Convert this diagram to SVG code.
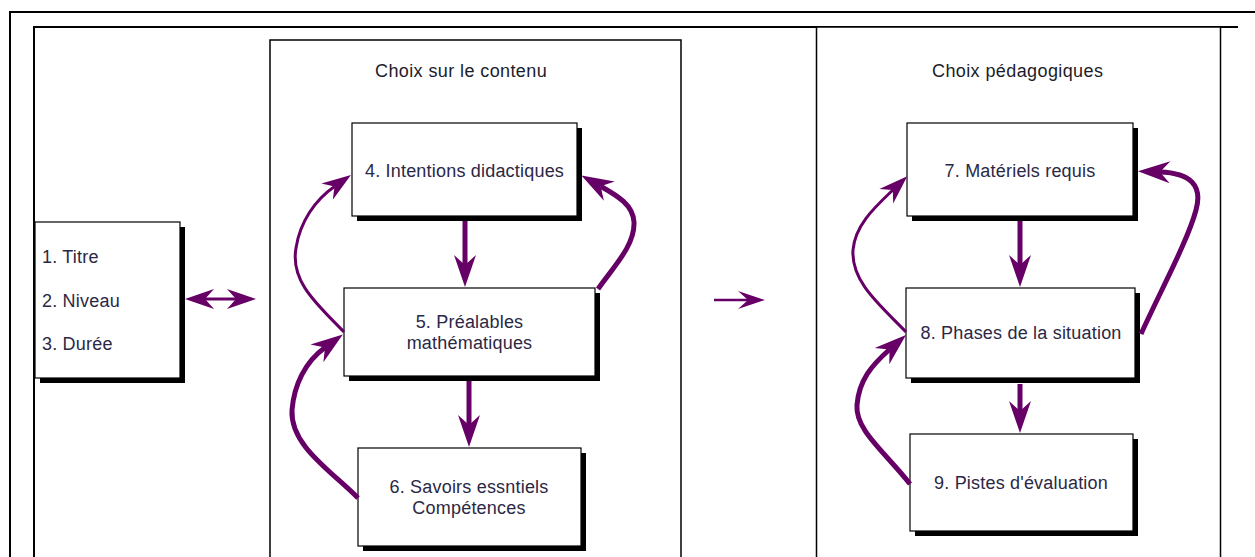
<svg xmlns="http://www.w3.org/2000/svg" width="1255" height="557" viewBox="0 0 1255 557">
<style>
.frame{fill:none;stroke:#000;stroke-width:2}
.panel{fill:#fff;stroke:#000;stroke-width:1.5}
.shadow{fill:#000}
.box{fill:#fff;stroke:#000;stroke-width:1.2}
.title{font-family:"Liberation Sans",Arial,sans-serif;font-size:18px;fill:#1c1c2a;letter-spacing:0.4px}
.lbl{font-family:"Liberation Sans",Arial,sans-serif;font-size:18px;fill:#2b2845;letter-spacing:0.2px}
.c{text-anchor:middle}
.thick{fill:none;stroke:#660066;stroke-width:5;marker-end:url(#headL)}
.thin{fill:none;stroke:#660066;stroke-width:3;marker-end:url(#headM)}
</style>
<defs>
<marker id="headL" markerUnits="userSpaceOnUse" markerWidth="34" markerHeight="24" refX="10" refY="11" orient="auto" overflow="visible">
<path d="M32,11 L0,0 L10,11 L0,22 Z" fill="#660066"/>
</marker>
<marker id="headM" markerUnits="userSpaceOnUse" markerWidth="32" markerHeight="22" refX="9" refY="10" orient="auto-start-reverse" overflow="visible">
<path d="M29,10 L0,0 L9,10 L0,20 Z" fill="#660066"/>
</marker>
<marker id="headS" markerUnits="userSpaceOnUse" markerWidth="28" markerHeight="20" refX="10" refY="9" orient="auto" overflow="visible">
<path d="M27,9 L0,0 L10,9 L0,18 Z" fill="#660066"/>
</marker>
</defs>
<rect width="1255" height="557" fill="#fff"/>
<g id="frame">
<path class="frame" d="M10,557 V12 H1255"/>
<path class="frame" d="M34,557 V27 H1238"/>
</g>
<g id="panel-contenu">
<rect class="panel" x="270" y="40" width="411" height="600"/>
<text class="title" x="375" y="77">Choix sur le contenu</text>
</g>
<g id="panel-pedagogiques">
<rect class="panel" x="816.5" y="27" width="404" height="600"/>
<text class="title" x="932" y="77">Choix pédagogiques</text>
</g>
<g id="node-1-3">
<rect class="shadow" x="40" y="227" width="145" height="156"/>
<rect class="box" x="35" y="222" width="145" height="156"/>
<text class="lbl" x="42" y="263">1. Titre</text>
<text class="lbl" x="42" y="307">2. Niveau</text>
<text class="lbl" x="42" y="350">3. Durée</text>
</g>
<g id="node-4">
<rect class="shadow" x="357" y="128" width="225" height="93"/>
<rect class="box" x="352" y="123" width="225" height="93"/>
<text class="lbl c" x="464.5" y="177">4. Intentions didactiques</text>
</g>
<g id="node-5">
<rect class="shadow" x="349" y="293" width="251" height="88"/>
<rect class="box" x="344" y="288" width="251" height="88"/>
<text class="lbl c" x="469.5" y="328">5. Préalables</text>
<text class="lbl c" x="469.5" y="349">mathématiques</text>
</g>
<g id="node-6">
<rect class="shadow" x="363" y="453" width="223" height="98"/>
<rect class="box" x="358" y="448" width="223" height="98"/>
<text class="lbl c" x="469" y="493">6. Savoirs essntiels</text>
<text class="lbl c" x="469" y="514">Compétences</text>
</g>
<g id="node-7">
<rect class="shadow" x="912" y="128" width="226" height="93"/>
<rect class="box" x="907" y="123" width="226" height="93"/>
<text class="lbl c" x="1020" y="177">7. Matériels requis</text>
</g>
<g id="node-8">
<rect class="shadow" x="911" y="293" width="229" height="90"/>
<rect class="box" x="906" y="288" width="229" height="90"/>
<text class="lbl c" x="1021" y="339">8. Phases de la situation</text>
</g>
<g id="node-9">
<rect class="shadow" x="915" y="439" width="223" height="97"/>
<rect class="box" x="910" y="434" width="223" height="97"/>
<text class="lbl c" x="1021" y="489">9. Pistes d'évaluation</text>
</g>
<g id="connectors">
<path d="M205,299 H236" fill="none" stroke="#660066" stroke-width="3" marker-start="url(#headM)" marker-end="url(#headM)"/>
<path d="M714,300 H748" fill="none" stroke="#660066" stroke-width="2.5" marker-end="url(#headS)"/>
<path class="thick" d="M465,221 V265"/>
<path class="thick" d="M469,381 V425"/>
<path class="thin" d="M344,332 C318,305 290,282 296,248 C300,222 315,200 334.5,186.5"/>
<path class="thick" d="M358,498 C330,470 290,445 292,410 C294,385 305,362 325,347.5"/>
<path class="thick" d="M598,289 C615,265 635,245 634,222 C633,205 618,196 600.6,186.2"/>
<path class="thick" d="M1020,221 V265"/>
<path class="thick" d="M1020,384 V411"/>
<path class="thin" d="M906,332 C880,305 851,282 853,250 C855,225 875,207 892.8,190"/>
<path class="thick" d="M910,484 C885,452 855,430 857,405 C859,380 872,365 889.5,349.5"/>
<path class="thick" d="M1141,334 C1162,288 1188,240 1196,210 C1203,185 1190,173 1160,172"/>
</g>
</svg>
